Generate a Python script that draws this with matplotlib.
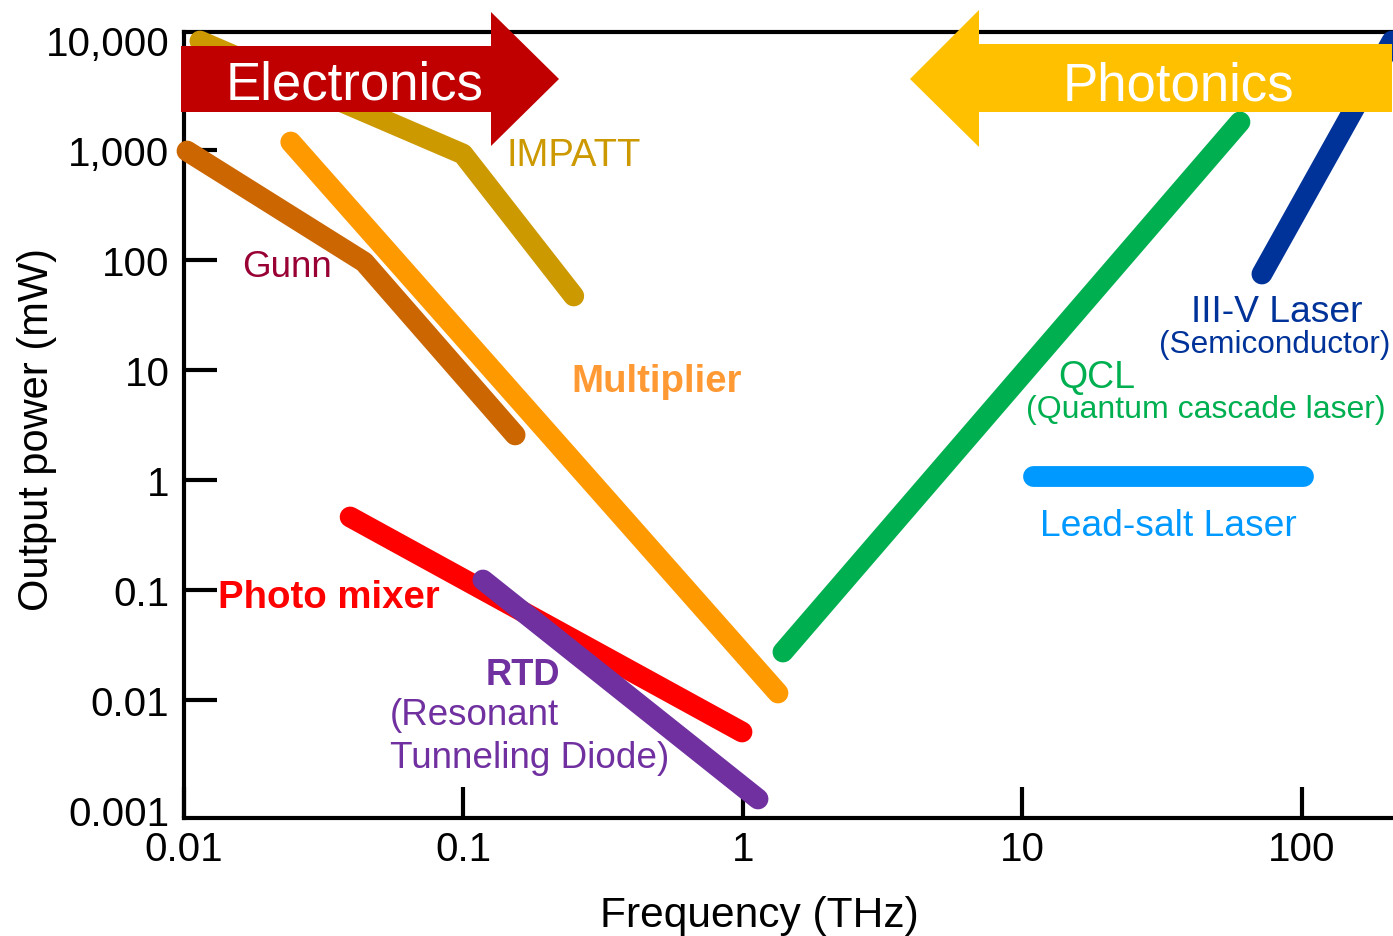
import matplotlib
matplotlib.use("Agg")
import matplotlib.pyplot as plt
from matplotlib.patches import Polygon
from matplotlib.ticker import NullLocator

plt.rcParams["font.family"] = ["Liberation Sans", "DejaVu Sans"]

# ===================== data =====================
# frequency (THz) / output power (mW) for each source
impatt_f = [0.0114, 0.0995, 0.248]
impatt_p = [9790, 920, 47.1]
gunn_f = [0.01025, 0.0441, 0.153]
gunn_p = [979, 95.9, 2.57]
mult_f = [0.0241, 1.334]
mult_p = [1182, 0.01158]
mixer_f = [0.0393, 0.992]
mixer_p = [0.461, 0.00512]
rtd_f = [0.1174, 1.132]
rtd_p = [0.1233, 0.00126]
qcl_f = [1.39, 60.0]
qcl_p = [0.0273, 1797]
iiiv_f = [71.9, 210]
iiiv_p = [74.6, 9790]
leadsalt_f = [10.9, 100.8]
leadsalt_p = [1.09, 1.09]

x_ticks = [0.01, 0.1, 1, 10, 100]
x_labels = ["0.01", "0.1", "1", "10", "100"]
y_ticks = [0.001, 0.01, 0.1, 1, 10, 100, 1000, 10000]
y_labels = ["0.001", "0.01", "0.1", "1", "10", "100", "1,000", "10,000"]

series = [
    (impatt_f, impatt_p, "#CC9900"),
    (gunn_f, gunn_p, "#CC6600"),
    (mult_f, mult_p, "#FF9900"),
    (mixer_f, mixer_p, "#FF0000"),
    (rtd_f, rtd_p, "#7030A0"),
    (qcl_f, qcl_p, "#00B050"),
    (iiiv_f, iiiv_p, "#003399"),
    (leadsalt_f, leadsalt_p, "#0099FF"),
]

# label text, x, y (baseline), colour, weight, size
labels = [
    ("IMPATT", 0.143, 730, "#CC9900", "normal", 27.5),
    ("Gunn", 0.0161, 71.5, "#990033", "normal", 26.5),
    ("Multiplier", 0.2424, 6.44, "#FF9933", "bold", 27.6),
    ("Photo mixer", 0.01323, 0.0701, "#FF0000", "bold", 27.6),
    ("RTD", 0.1203, 0.01398, "#7030A0", "bold", 26.2),
    ("(Resonant", 0.0546, 0.00605, "#7030A0", "normal", 26.5),
    ("Tunneling Diode)", 0.0546, 0.00246, "#7030A0", "normal", 26.6),
    ("QCL", 13.4, 7.0, "#00B050", "normal", 27),
    ("(Quantum cascade laser)", 10.3, 3.74, "#00B050", "normal", 23),
    ("III-V Laser", 40.1, 27.9, "#003399", "normal", 26.8),
    ("(Semiconductor)", 30.8, 14.6, "#003399", "normal", 22.7),
    ("Lead-salt Laser", 11.55, 0.316, "#0099FF", "normal", 26.8),
]

# ===================== figure =====================
W, H = 1393, 937
fig = plt.figure(figsize=(W / 100, H / 100), dpi=100)
ax = fig.add_axes([184 / W, 1 - 819 / H, 1 - 184 / W, (819 - 33) / H])
ax.set_xscale("log")
ax.set_yscale("log")
ax.set_xlim(0.01, 211.7)
ax.set_ylim(0.000846, 11822)

for f, p, c in series:
    ax.plot(f, p, color=c, lw=15, solid_capstyle="round",
            solid_joinstyle="round", clip_on=False, zorder=3)

for t, x, y, c, w, s in labels:
    ax.text(x, y, t, color=c, fontweight=w, fontsize=s, ha="left", va="baseline")

# axes style
ax.spines["right"].set_visible(False)
for s in ["left", "bottom", "top"]:
    ax.spines[s].set_linewidth(3)

ax.set_xticks(x_ticks, x_labels)
ax.set_yticks(y_ticks, y_labels)
ax.xaxis.set_minor_locator(NullLocator())
ax.yaxis.set_minor_locator(NullLocator())
ax.tick_params(axis="y", direction="in", length=24, width=3, labelsize=29, pad=10.5)
ax.tick_params(axis="x", direction="in", length=22, width=3, labelsize=29, pad=9)
# 0.001 sits on the bottom spine and 10,000 is hidden under the arrow: no marks
ax.yaxis.get_major_ticks()[0].tick1line.set_visible(False)
ax.yaxis.get_major_ticks()[-1].tick1line.set_visible(False)

ax.set_xlabel("Frequency (THz)", fontsize=30.6)
ax.xaxis.set_label_coords((759 - 184) / 1209, -(927 - 819) / 786)
ax.xaxis.label.set_va("baseline")
ax.set_ylabel("Output power (mW)", fontsize=30)
ax.yaxis.set_label_coords((48 - 184) / 1209, (819 - 430) / 786)
ax.yaxis.label.set_va("baseline")


# ===================== arrows =====================
def px(x, y):
    return (x / W, 1 - y / H)


elec = [px(181, 47), px(491, 47), px(491, 13), px(559, 80),
        px(491, 147), px(491, 113), px(181, 113)]
phot = [px(1392, 45), px(979, 45), px(979, 11), px(910, 80),
        px(979, 148), px(979, 113), px(1392, 113)]
fig.add_artist(Polygon(elec, closed=True, transform=fig.transFigure,
                       facecolor="#C00000", edgecolor="none", zorder=5))
fig.add_artist(Polygon(phot, closed=True, transform=fig.transFigure,
                       facecolor="#FFC000", edgecolor="none", zorder=5))
fig.text(226 / W, 1 - 100 / H, "Electronics", color="white", fontsize=38,
         ha="left", va="baseline", zorder=6)
fig.text(1063 / W, 1 - 101 / H, "Photonics", color="white", fontsize=38,
         ha="left", va="baseline", zorder=6)

fig.savefig("out.png", dpi=100)
